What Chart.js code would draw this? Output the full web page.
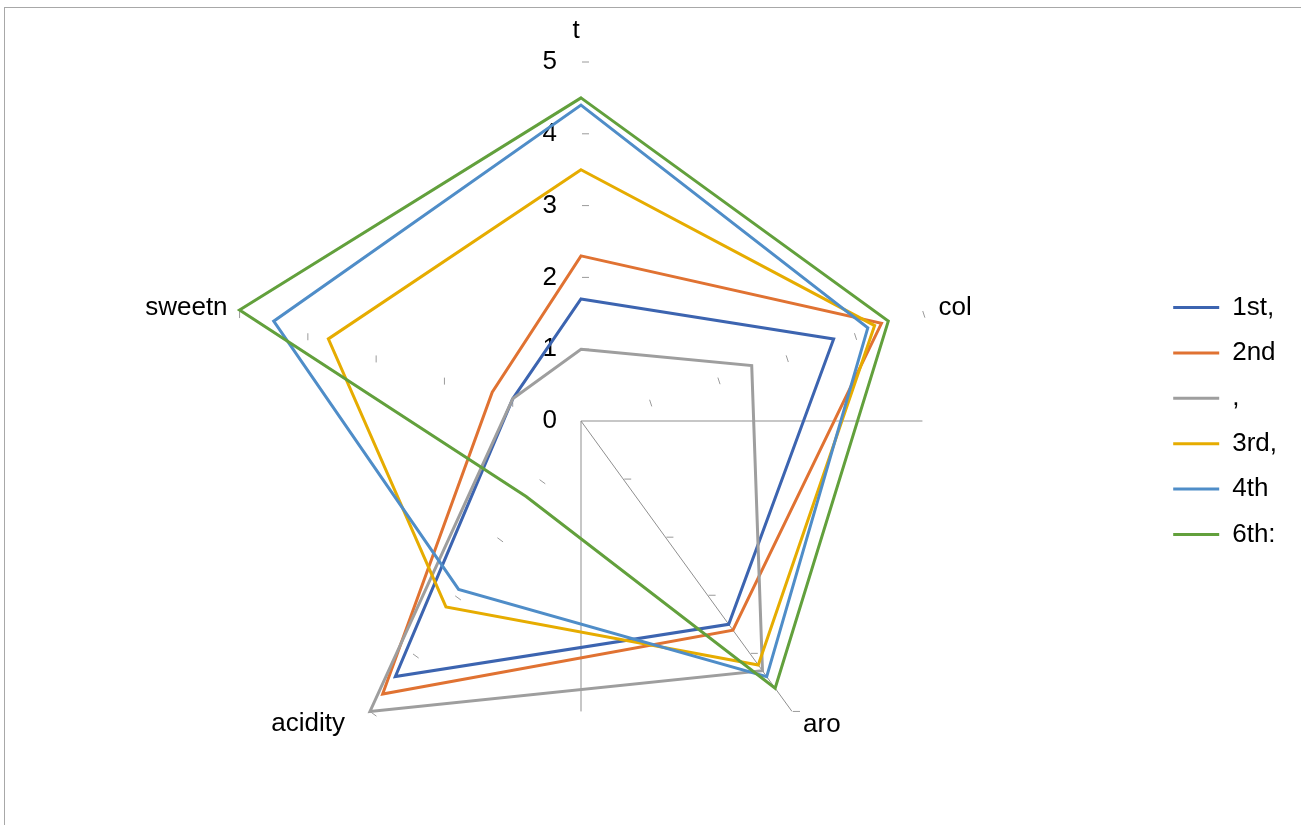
<!DOCTYPE html>
<html>
<head>
<meta charset="utf-8">
<title>radar</title>
<script src="https://cdn.jsdelivr.net/npm/chart.js@4.4.0/dist/chart.umd.min.js"></script>
<style>
html, body { margin: 0; padding: 0; background: #fff; overflow: hidden; }
#wrap { position: relative; width: 1301px; height: 825px; }
#frame { position: absolute; left: 4px; top: 7px; width: 1400px; height: 900px;
         border-top: 1.5px solid #a8a8a8; border-left: 1.5px solid #a8a8a8; }
canvas { position: absolute; left: 0; top: 0; }
</style>
</head>
<body>
<div id="wrap">
  <div id="frame"></div>
  <canvas id="radar" width="1301" height="825"></canvas>
</div>
<script>
// data
const categories = ['t', 'col', 'aro', 'acidity', 'sweetn'];
const seriesNames = ['1st,', '2nd', ',', '3rd,', '4th', '6th:'];
const s1st = [1.7, 3.7, 3.5, 4.4, 1.0];
const s2nd = [2.3, 4.4, 3.6, 4.7, 1.3];
const sComma = [1.0, 2.5, 4.3, 5.0, 1.0];
const s3rd = [3.5, 4.3, 4.2, 3.2, 3.7];
const s4th = [4.4, 4.2, 4.4, 2.9, 4.5];
const s6th = [4.5, 4.5, 4.6, 1.3, 5.0];
const tickValues = [0, 1, 2, 3, 4, 5];

const colors = ['#3c64b0', '#e07232', '#9e9e9e', '#e6ac00', '#4f8dc8', '#62a03c'];
const FONT = '"Liberation Sans", Arial, sans-serif';

// little tick marks: direction per axis, and where each category label sits
const tickDirs = [[1, 0], [0.31, 0.95], [1, 0], [0.81, 0.59], [0, 1]];
const labelPos = [
  { dx: -5, dy: -31, align: 'center' },
  { dx: 16, dy: -2, align: 'left' },
  { dx: 11, dy: 13, align: 'left' },
  { dx: -25, dy: 12, align: 'right' },
  { dx: -12, dy: -2, align: 'right' }
];

const axisDecor = {
  id: 'axisDecor',
  beforeDatasetsDraw(chart) {
    const r = chart.scales.r;
    const ctx = chart.ctx;
    const cx = r.xCenter, cy = r.yCenter;
    const max = tickValues[tickValues.length - 1];
    const col5 = r.getPointPositionForValue(1, max);
    const aro5 = r.getPointPositionForValue(2, max);
    ctx.save();
    ctx.strokeStyle = '#8f8f8f';
    ctx.lineWidth = 1;
    ctx.beginPath();
    ctx.moveTo(cx, cy); ctx.lineTo(col5.x, cy);
    ctx.moveTo(cx, cy); ctx.lineTo(cx, aro5.y);
    ctx.moveTo(cx, cy); ctx.lineTo(aro5.x, aro5.y);
    ctx.stroke();

    ctx.strokeStyle = '#9a9a9a';
    categories.forEach((c, i) => {
      const d = tickDirs[i];
      tickValues.forEach(v => {
        if (v === 0) return;
        const p = r.getPointPositionForValue(i, v);
        ctx.beginPath();
        ctx.moveTo(p.x + d[0], p.y + d[1]);
        ctx.lineTo(p.x + d[0] * 8, p.y + d[1] * 8);
        ctx.stroke();
      });
    });

    // value labels, left of the top axis
    ctx.fillStyle = '#000';
    ctx.font = '26px ' + FONT;
    ctx.textAlign = 'right';
    ctx.textBaseline = 'middle';
    tickValues.forEach(v => {
      ctx.fillText(String(v), cx - 24, cy - r.getDistanceFromCenterForValue(v));
    });

    // category labels
    categories.forEach((c, i) => {
      const p = r.getPointPositionForValue(i, max);
      ctx.textAlign = labelPos[i].align;
      ctx.fillText(c, p.x + labelPos[i].dx, p.y + labelPos[i].dy);
    });
    ctx.restore();
  }
};

const allSeries = [s1st, s2nd, sComma, s3rd, s4th, s6th];
const datasets = allSeries.map((vals, i) => ({
  label: seriesNames[i],
  data: vals,
  borderColor: colors[i],
  backgroundColor: colors[i],
  borderWidth: 3,
  pointRadius: 0,
  fill: false,
  tension: 0,
  order: allSeries.length - i   // later series on top, like the original
}));

new Chart(document.getElementById('radar'), {
  type: 'radar',
  data: { labels: categories, datasets: datasets },
  plugins: [axisDecor],
  options: {
    responsive: false,
    animation: false,
    layout: { padding: { left: 10, right: 14, top: 62, bottom: 45 } },
    scales: {
      r: {
        min: 0,
        max: 5,
        ticks: { display: false, stepSize: 1 },
        grid: { display: false },
        angleLines: { display: false },
        pointLabels: { display: false }
      }
    },
    plugins: {
      tooltip: { enabled: false },
      legend: {
        position: 'right',
        align: 'center',
        reverse: true,
        labels: {
          boxWidth: 46,
          boxHeight: 3,
          padding: 19.4,
          color: '#000',
          font: { size: 26, family: FONT },
          generateLabels(chart) {
            const items = Chart.defaults.plugins.legend.labels.generateLabels(chart);
            items.forEach(it => { it.fillStyle = it.strokeStyle; it.lineWidth = 0; });
            return items;
          }
        }
      }
    }
  }
});
</script>
</body>
</html>
